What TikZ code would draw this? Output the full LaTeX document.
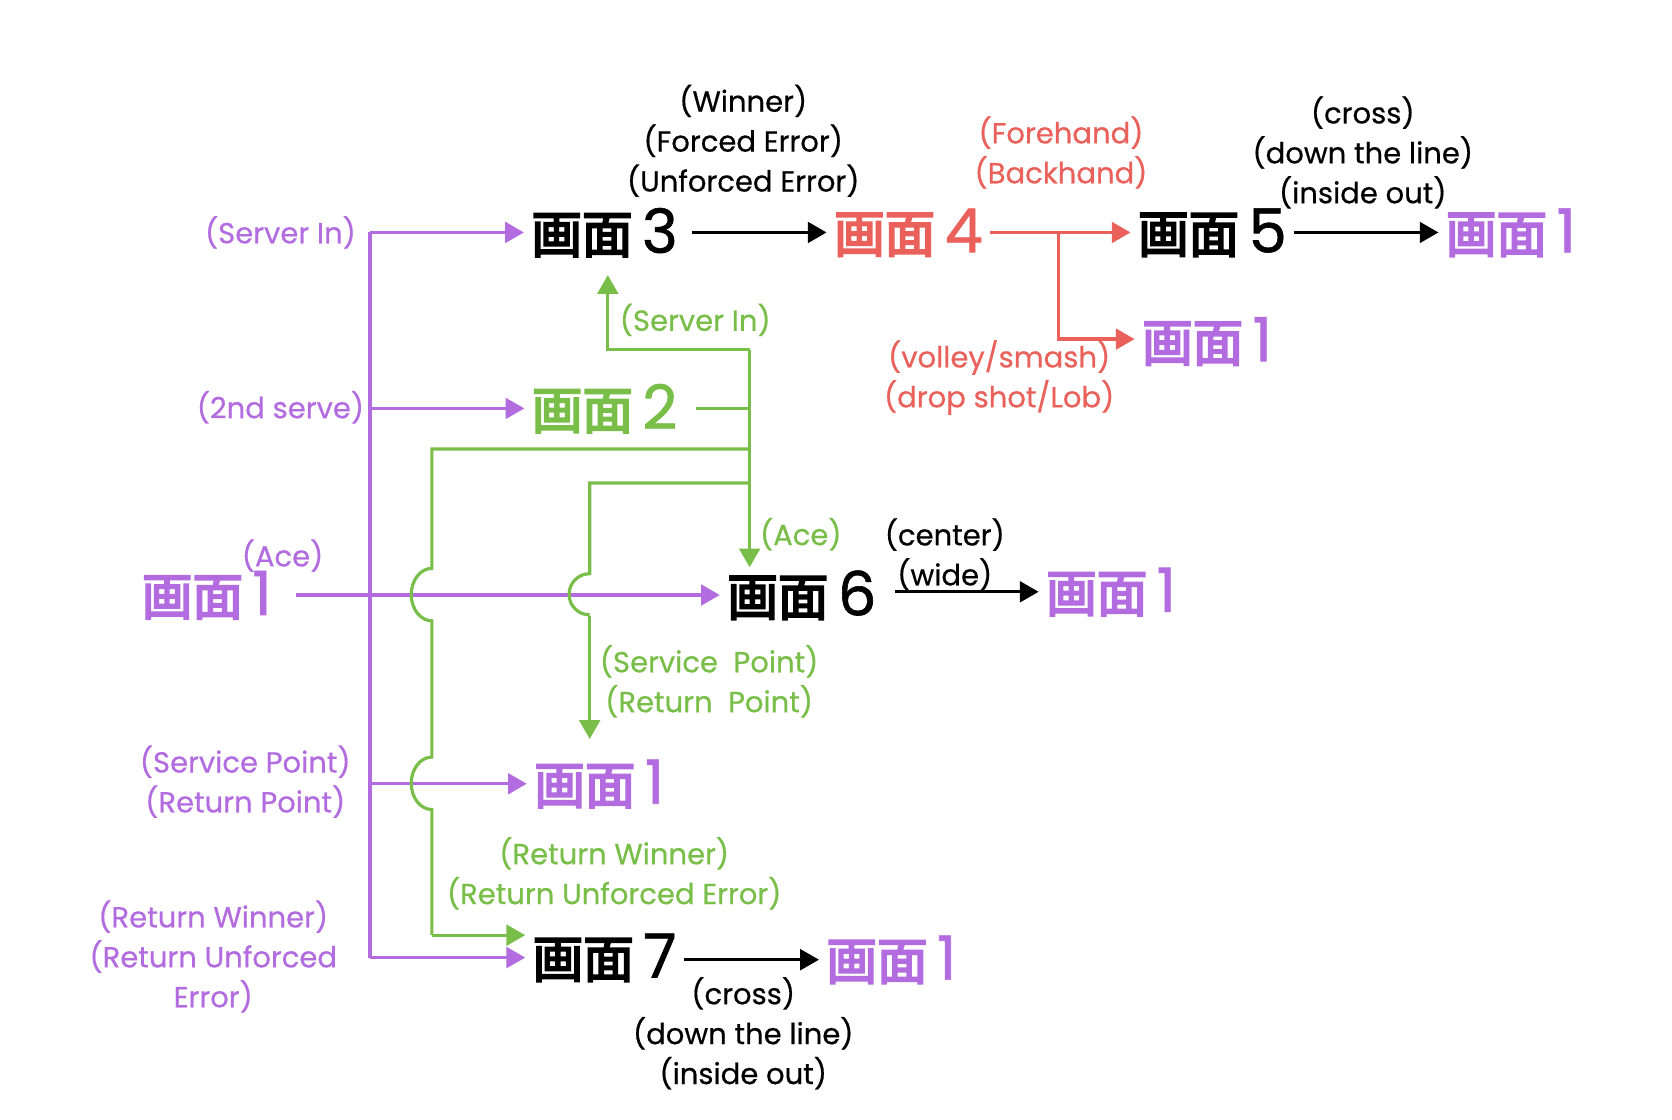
\documentclass[tikz,border=0pt]{standalone}
\usepackage{fontspec}
\setmainfont{Poppins}[FakeBold=0.5]
\newfontfamily\jp{Noto Sans CJK JP}[FakeBold=4]
\newfontfamily\digfont{Poppins}[FakeBold=1]
\usetikzlibrary{arrows.meta}
\definecolor{pur}{RGB}{178,108,224}
\definecolor{grn}{RGB}{120,190,72}
\definecolor{rd}{RGB}{234,96,90}
\newcommand{\gamen}[1]{{\jp 画面}\hspace{5pt}{\digfont\fontsize{32.5}{32.5}\selectfont #1}}
\begin{document}
\begin{tikzpicture}[x=0.02cm,y=-0.02cm,line cap=butt,>={Triangle[length=10pt,width=11pt]},
  scr/.style={font=\fontsize{27}{27}\selectfont,inner sep=0pt,outer xsep=4pt},
  lbl/.style={font=\fontsize{15.5}{21.3}\selectfont,align=center,inner sep=0pt},
  ln/.style={line width=1.7pt},
  hop/.style={line width=1.7pt,grn}]
\useasboundingbox (0,0) rectangle (1568,1050);
% screens
\node[scr] (s3) at (567,218) {\gamen{3}};
\node[scr,rd] (s4) at (852,218) {\gamen{4}};
\node[scr] (s5) at (1137,218) {\gamen{5}};
\node[scr,pur] (s1a) at (1417,218) {\gamen{1}};
\node[scr,pur] (s1b) at (1132,320) {\gamen{1}};
\node[scr,grn] (s2) at (567,383) {\gamen{2}};
\node[scr,pur] (s1) at (194,558) {\gamen{1}};
\node[scr] (s6) at (752,558) {\gamen{6}};
\node[scr,pur] (s1c) at (1042,555) {\gamen{1}};
\node[scr,pur] (s1d) at (562,735) {\gamen{1}};
\node[scr] (s7) at (567,898) {\gamen{7}};
\node[scr,pur] (s1e) at (836,900) {\gamen{1}};
% labels
\node[lbl,pur] (lsi) at (263,218) {(Server In)};
\node[lbl,pur] (l2nd) at (263,382) {(2nd serve)};
\node[lbl,pur] (lace) at (265,521) {(Ace)};
\node[lbl,pur] (lpt) at (230,733) {(Service Point)\\(Return Point)};
\node[lbl,pur] (lret) at (200,897) {(Return Winner)\\(Return Unforced\\Error)};
\node[lbl] (lwin) at (697,132) {(Winner)\\(Forced Error)\\(Unforced Error)};
\node[lbl,rd] (lhand) at (995,143) {(Forehand)\\(Backhand)};
\node[lbl] (lcr) at (1278,143) {(cross)\\(down the line)\\(inside out)};
\node[lbl,grn] (gsi) at (652,300) {(Server In)};
\node[lbl,rd] (lvol) at (937,354) {(volley/smash)\\(drop shot/Lob)};
\node[lbl,grn] (gace) at (751,501) {(Ace)};
\node[lbl] (lcw) at (886,520) {(center)\\(wide)};
\node[lbl,grn] (gpt) at (665,639) {(Service\ \ Point)\\(Return\ \ Point)};
\node[lbl,grn] (gret) at (576,819) {(Return Winner)\\(Return Unforced Error)};
\node[lbl] (lcr2) at (697,969) {(cross)\\(down the line)\\(inside out)};
% junctions
\coordinate (pv) at (347,558);
\coordinate (gv) at (703,328);
\coordinate (rv) at (993,218);
% purple tree
\draw[ln,pur,->] (s1.east) ++(16,0) -- (s6.west);
\draw[ln,pur] (pv |- s3) -- (pv |- s7);
\draw[ln,pur,->] (pv |- s3) -- (s3.west);
\draw[ln,pur,->] (pv |- s2) -- (s2.west);
\draw[ln,pur,->] (pv |- s1d) -- (s1d.west);
\draw[ln,pur,->] (pv |- s7) -- (s7.west);
% green tree
\draw[ln,grn] (s2.east) ++(10,0) -- (gv |- s2);
\draw[ln,grn,->] (gv) -- (703,532);
\draw[ln,grn,->] (gv) -- (570,328) -- (570,258);
\draw[hop] (703,421) -- (405,421) -- (405,533)
  arc[start angle=90,end angle=270,x radius=11pt,y radius=14pt] -- (405,710)
  arc[start angle=90,end angle=270,x radius=11pt,y radius=14pt] -- (405,877);
\draw[hop,->] (405,877) -- (s7.west |- 0,877);
\draw[hop] (703,453) -- (553,453) -- (553,538)
  arc[start angle=90,end angle=270,radius=11pt];
\draw[hop,->] (553,578) -- (553,693);
% red tree
\draw[ln,rd,->] (s4.east) -- (s5.west);
\draw[ln,rd,->] (rv) -- (993,318) -- (s1b.west |- 0,318);
% black arrows
\draw[ln,->] (s3.east) ++(6,0) -- (s4.west);
\draw[ln,->] (s5.east) -- (s1a.west);
\draw[ln,->] (s6.east |- s1c) ++(10,0) -- (s1c.west);
\draw[ln,->] (s7.east |- s1e) -- (s1e.west);
\end{tikzpicture}
\end{document}
